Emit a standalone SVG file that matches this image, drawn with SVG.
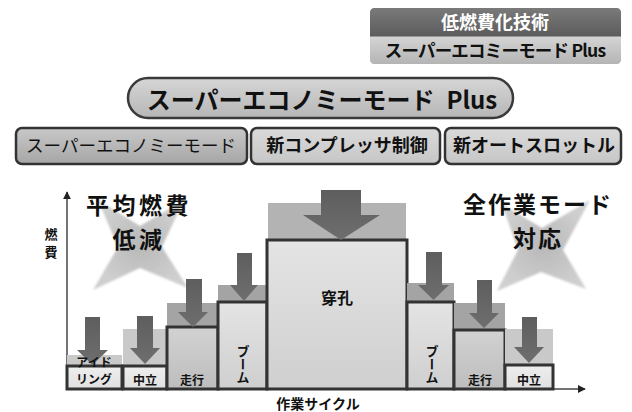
<svg xmlns="http://www.w3.org/2000/svg" width="632" height="412" viewBox="0 0 632 412">
<defs>
<style>
text{font-family:"Noto Sans CJK JP","Noto Sans CJK SC",sans-serif;font-weight:700;fill:#111;text-anchor:middle}
.bar{stroke:#333;stroke-width:3}
.arrow{fill:url(#gArrow)}
.bgD{fill:#a4a4a4}
.bgL{fill:#c9c9c9}
.bgM{fill:#b3b3b3}
.box{stroke:#333;stroke-width:2.5}
.axis{stroke:#444;stroke-width:1.5;fill:none}
.star{fill:url(#gStar);filter:url(#blur)}
.lbl{font-size:12px}
.head{font-size:23px}
</style>
<linearGradient id="gArrow" x1="0" y1="0" x2="0" y2="1"><stop offset="0" stop-color="#5e5e5e"/><stop offset="1" stop-color="#6e6e6e"/></linearGradient>
<linearGradient id="gBar" x1="0" y1="0" x2="0" y2="1"><stop offset="0" stop-color="#e4e4e4"/><stop offset="1" stop-color="#cfcfcf"/></linearGradient>
<linearGradient id="gBarD" x1="0" y1="0" x2="0" y2="1"><stop offset="0" stop-color="#d2d2d2"/><stop offset="1" stop-color="#bdbdbd"/></linearGradient>
<linearGradient id="gBarL" x1="0" y1="0" x2="0" y2="1"><stop offset="0" stop-color="#eeeeee"/><stop offset="1" stop-color="#e0e0e0"/></linearGradient>
<linearGradient id="gPill" x1="0" y1="0" x2="0" y2="1"><stop offset="0" stop-color="#d6d6d6"/><stop offset="1" stop-color="#b6b6b6"/></linearGradient>
<linearGradient id="gBox1" x1="0" y1="0" x2="0" y2="1"><stop offset="0" stop-color="#c8c8c8"/><stop offset="1" stop-color="#a6a6a6"/></linearGradient>
<linearGradient id="gBox2" x1="0" y1="0" x2="0" y2="1"><stop offset="0" stop-color="#dadada"/><stop offset="1" stop-color="#c6c6c6"/></linearGradient>
<linearGradient id="gTop" x1="0" y1="0" x2="0" y2="1"><stop offset="0" stop-color="#7a7a7a"/><stop offset="1" stop-color="#5c5c5c"/></linearGradient>
<linearGradient id="gSub" x1="0" y1="0" x2="0" y2="1"><stop offset="0" stop-color="#d4d4d4"/><stop offset="1" stop-color="#b4b4b4"/></linearGradient>
<radialGradient id="gStar"><stop offset="0" stop-color="#b8b8b8"/><stop offset="1" stop-color="#cfcfcf"/></radialGradient>
<filter id="blur" x="-10%" y="-10%" width="120%" height="120%"><feGaussianBlur stdDeviation="1.2"/></filter>
<marker id="ah" viewBox="0 0 10 10" refX="9" refY="5" markerWidth="8" markerHeight="8" markerUnits="userSpaceOnUse" orient="auto"><path d="M0,0 L10,5 L0,10 z" fill="#222"/></marker>
</defs>
<rect width="632" height="412" fill="#fff"/>

<g id="legend">
<rect x="370" y="8" width="251" height="56" rx="5" fill="#999"/>
<path d="M375,8 H616 Q621,8 621,13 V36 H370 V13 Q370,8 375,8 z" fill="url(#gTop)"/>
<path d="M370,37 H621 V59 Q621,64 616,64 H375 Q370,64 370,59 z" fill="url(#gSub)"/>
<text x="495" y="29" font-size="18" style="fill:#fff">低燃費化技術</text>
<text x="495" y="57" font-size="17.5" letter-spacing="-0.8">スーパーエコミーモード Plus</text>
</g>

<g id="pill">
<rect x="128" y="78" width="385" height="40" rx="20" fill="url(#gPill)" stroke="#3a3a3a" stroke-width="2.5"/>
<text x="322" y="109" font-size="24">スーパーエコノミーモード<tspan dx="12">Plus</tspan></text>
</g>

<g id="box1">
<rect class="box" x="16" y="128" width="231" height="36" rx="6" fill="url(#gBox1)"/>
<text x="131" y="152" font-size="17.5" style="font-weight:400">スーパーエコノミーモード</text>
</g>
<g id="box2">
<rect class="box" x="251" y="128" width="189" height="36" rx="6" fill="url(#gBox2)"/>
<text x="347" y="152" font-size="18">新コンプレッサ制御</text>
</g>
<g id="box3">
<rect class="box" x="445" y="128" width="176" height="36" rx="6" fill="url(#gBox2)"/>
<text x="534" y="152" font-size="18">新オートスロットル</text>
</g>

<g id="stars">
<polygon class="star" points="98,200 140,226 184,200 162,247 188,288 140,268 93,290 118,247"/>
<polygon class="star" points="502,204 542,228 590,200 563,250 586,289 541,272 497,291 518,250"/>
</g>

<g id="headline-left">
<text class="head" x="139" y="214" letter-spacing="3.5">平均燃費</text>
<text class="head" x="139" y="248" letter-spacing="3.5">低減</text>
</g>
<g id="headline-right">
<text class="head" x="538" y="213" letter-spacing="2">全作業モード</text>
<text class="head" x="538" y="247" letter-spacing="2">対応</text>
</g>

<g id="connectors">
<line class="axis" x1="67" y1="389" x2="67" y2="192" marker-end="url(#ah)"/>
<line class="axis" x1="67" y1="389" x2="585" y2="389" marker-end="url(#ah)"/>
</g>

<g id="axis-labels">
<text x="51" y="239" font-size="13">燃</text>
<text x="51" y="257" font-size="13">費</text>
<text x="318" y="409" font-size="14">作業サイクル</text>
</g>

<g id="bar-idling">
<rect class="bgL" x="67" y="355" width="55" height="11"/>
<rect class="bar" x="67" y="366" width="55" height="23" fill="url(#gBarL)"/>
<polygon class="arrow" points="85,317 100,317 100,350 108,350 92.5,365 77,350 85,350"/>
<text class="lbl" x="94" y="367" font-size="11">アイド</text>
<text class="lbl" x="94" y="384">リング</text>
</g>

<g id="bar-neutral-left">
<rect class="bgL" x="123" y="329" width="44" height="37"/>
<rect class="bar" x="123" y="366" width="44" height="23" fill="url(#gBarL)"/>
<polygon class="arrow" points="137,316 153,316 153,348 160,348 145,364 130,348 137,348"/>
<text class="lbl" x="145" y="385">中立</text>
</g>

<g id="bar-travel-left">
<rect class="bgD" x="167" y="303" width="51" height="24"/>
<rect class="bar" x="167" y="327" width="51" height="62" fill="url(#gBarD)"/>
<polygon class="arrow" points="186,279 202,279 202,312 208,312 193,327 178,312 186,312"/>
<text class="lbl" x="192" y="385">走行</text>
</g>

<g id="bar-boom-left">
<rect class="bgD" x="218" y="285" width="49" height="17"/>
<rect class="bar" x="218" y="302" width="49" height="87" fill="url(#gBar)"/>
<polygon class="arrow" points="237,253 252,253 252,285 258,285 244,301 230,285 237,285"/>
<text x="243" y="364" font-size="13" style="writing-mode:vertical-rl">ブーム</text>
</g>

<g id="bar-drilling">
<rect class="bgM" x="268" y="203" width="138" height="37"/>
<rect class="bar" x="267" y="240" width="140" height="149" fill="url(#gBar)"/>
<polygon class="arrow" points="321,190 361,190 361,215 380,215 341,240 303,215 321,215"/>
<text x="337" y="304" font-size="16">穿孔</text>
</g>

<g id="bar-boom-right">
<rect class="bgD" x="407" y="283" width="47" height="19"/>
<rect class="bar" x="407" y="302" width="47" height="87" fill="url(#gBar)"/>
<polygon class="arrow" points="426,252 442,252 442,285 449,285 433.5,300 418,285 426,285"/>
<text x="432" y="364" font-size="13" style="writing-mode:vertical-rl">ブーム</text>
</g>

<g id="bar-travel-right">
<rect class="bgD" x="454" y="303" width="51" height="27"/>
<rect class="bar" x="454" y="330" width="51" height="59" fill="url(#gBarD)"/>
<polygon class="arrow" points="477,280 492,280 492,313 499,313 484,328 469,313 477,313"/>
<text class="lbl" x="480" y="385">走行</text>
</g>

<g id="bar-neutral-right">
<rect class="bgL" x="505" y="329" width="48" height="36"/>
<rect class="bar" x="505" y="365" width="48" height="24" fill="url(#gBarL)"/>
<polygon class="arrow" points="522,317 537,317 537,347 544,347 529,363 514,347 522,347"/>
<text class="lbl" x="529" y="385">中立</text>
</g>
</svg>
